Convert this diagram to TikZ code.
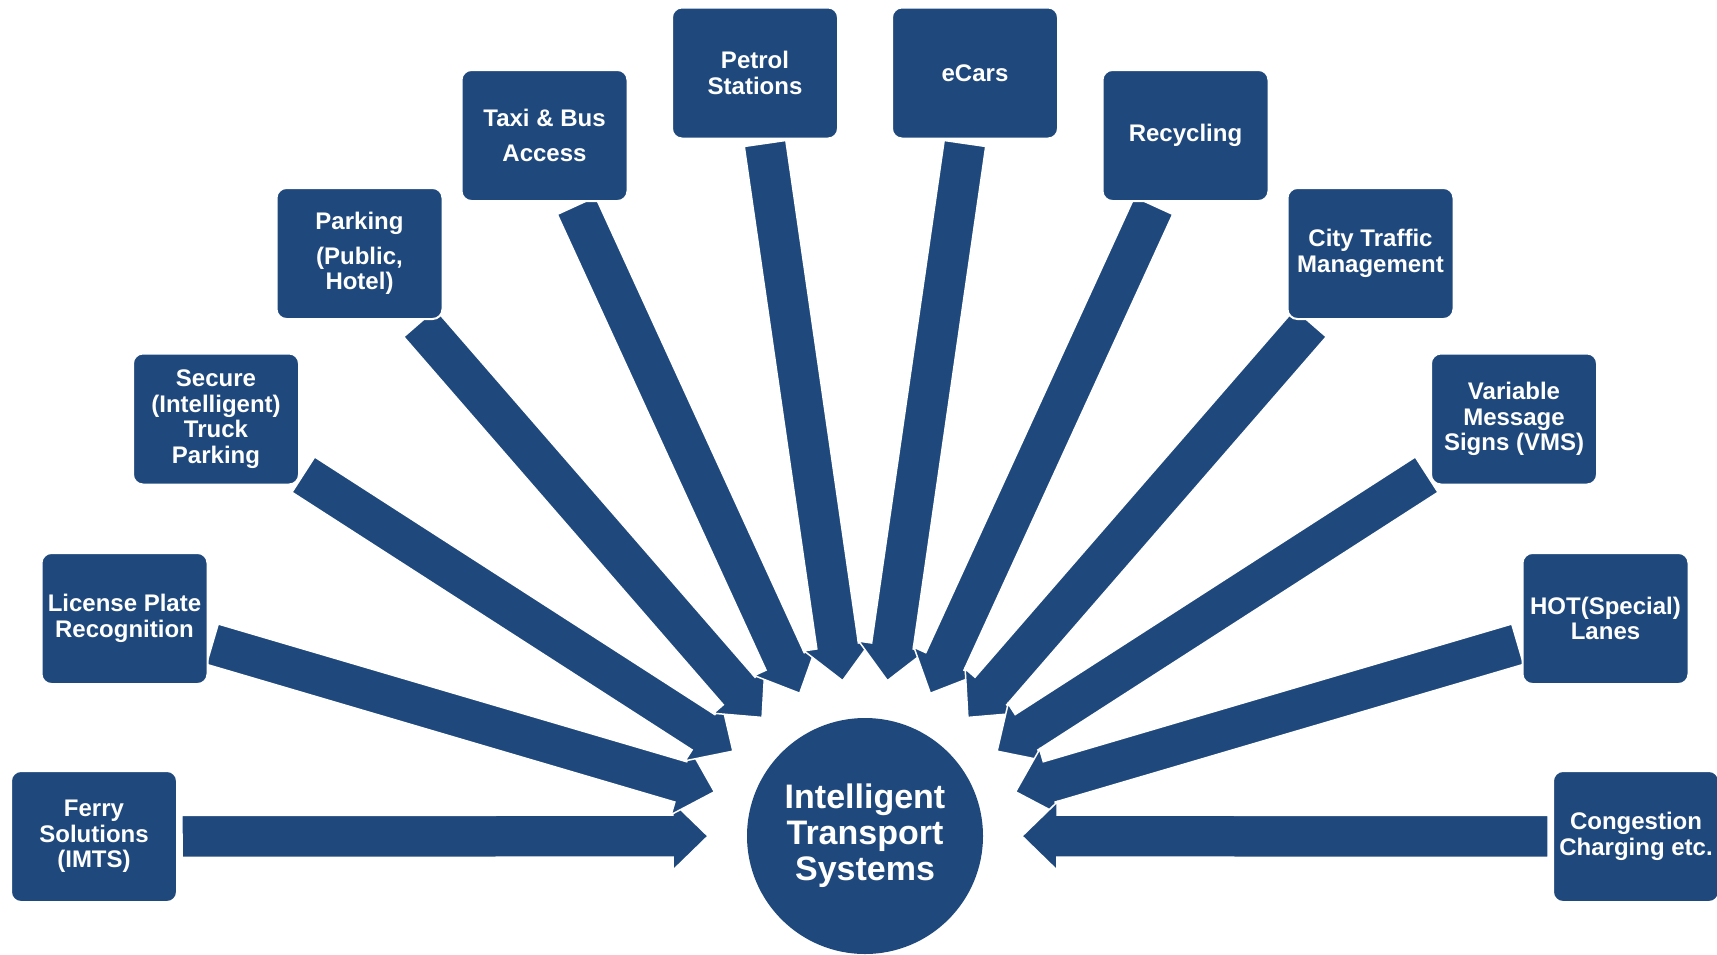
\documentclass[tikz,border=0pt]{standalone}
\usepackage{fontspec}
\setmainfont{Liberation Sans}
\usetikzlibrary{calc}
\definecolor{itsblue}{RGB}{31,73,125}
\pgfdeclarelayer{bg}
\pgfsetlayers{bg,main}
\newcommand\itsray[1]{%
  \path (#1) -- (C) coordinate[pos=0] (#1-b);
  \coordinate (#1-s) at ($(#1-b)!4pt!(C)$);
  \coordinate (#1-t) at ($(C)!157pt!(#1)$);
  \coordinate (#1-h) at ($(#1-t)!35pt!(#1)$);
  \begin{pgfonlayer}{bg}
  \path[ray] ($(#1-s)!21pt!90:(#1-t)$) -- ($(#1-h)!21pt!90:(#1-t)$) -- ($(#1-h)!34pt!90:(#1-t)$) -- (#1-t) -- ($(#1-h)!34pt!-90:(#1-t)$) -- ($(#1-h)!21pt!-90:(#1-t)$) -- ($(#1-s)!21pt!-90:(#1-t)$) -- cycle;
  \end{pgfonlayer}}
\begin{document}
\begin{tikzpicture}[x=1pt,y=-1pt,
  box/.style={rectangle, rounded corners=10pt, fill=itsblue, draw=white, line width=2pt,
    minimum width=166pt, minimum height=131pt, inner sep=0pt, text=white,
    font=\fontsize{24}{25.5}\selectfont\bfseries, align=center},
  hub/.style={circle, fill=itsblue, minimum size=236pt, inner sep=0pt, text=white,
    font=\fontsize{34}{36}\selectfont\bfseries, align=center},
  ray/.style={fill=itsblue, draw=white, line width=1.5pt, line join=miter}]
\useasboundingbox (0,0) rectangle (1717,954);
\coordinate (C) at (865,836);
\node[hub] (its) at (C) {Intelligent\\Transport\\Systems};
\node[box] (ferry) at (94,836.5) {Ferry\\Solutions\\(IMTS)};
\node[box] (lpr) at (124.5,618.5) {License Plate\\Recognition};
\node[box] (truck) at (216,419) {Secure\\(Intelligent)\\Truck\\Parking};
\node[box] (park) at (359.5,253.5) {Parking\\[9pt](Public,\\Hotel)};
\node[box] (taxi) at (544.5,135.5) {Taxi \& Bus\\[9pt]Access};
\node[box] (petrol) at (755,73) {Petrol\\Stations};
\node[box] (ecars) at (975,73) {eCars};
\node[box] (recyc) at (1185.5,135.5) {Recycling};
\node[box] (city) at (1370.5,253.5) {City Traffic\\Management};
\node[box] (vms) at (1514,419) {Variable\\Message\\Signs (VMS)};
\node[box] (hot) at (1605.5,618.5) {HOT(Special)\\Lanes};
\node[box] (cong) at (1636,836.5) {Congestion\\Charging etc.};
\itsray{ferry}
\itsray{lpr}
\itsray{truck}
\itsray{park}
\itsray{taxi}
\itsray{petrol}
\itsray{ecars}
\itsray{recyc}
\itsray{city}
\itsray{vms}
\itsray{hot}
\itsray{cong}
\end{tikzpicture}
\end{document}
